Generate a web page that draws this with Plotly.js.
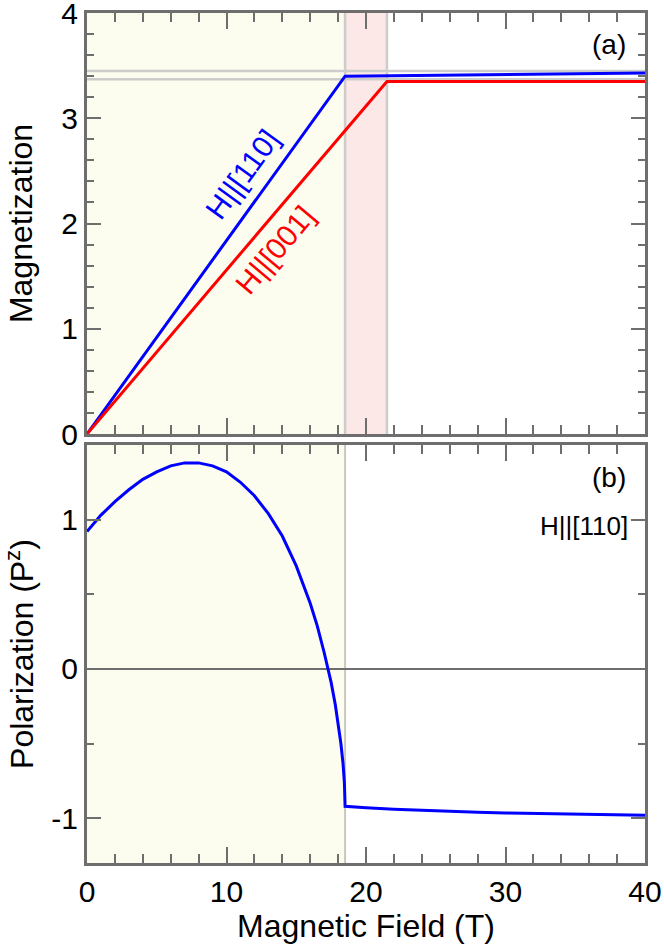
<!DOCTYPE html>
<html>
<head>
<meta charset="utf-8">
<script src="https://cdn.plot.ly/plotly-3.0.1.min.js"></script>
<style>
  html, body { margin: 0; padding: 0; background: #fff; }
  #plot { width: 664px; height: 948px; }
</style>
</head>
<body>
<div id="plot"></div>
<script>
// magnetization curves (panel a)
const field110 = [0, 18.5, 40];
const mag110 = [0, 3.40, 3.43];
const field001 = [0, 21.5, 40];
const mag001 = [0, 3.35, 3.35];

// polarization for H||[110] (panel b)
const fieldPol = [0, 1, 2, 3, 4, 5, 6, 7, 8, 9, 10, 11, 12, 13, 14, 15, 16, 16.5, 17, 17.5, 17.8, 18, 18.2, 18.35, 18.45, 18.5,
  19, 20, 22, 24, 26, 28, 30, 32, 34, 36, 38, 40];
const pol110 = [0.92, 1.03, 1.12, 1.20, 1.27, 1.32, 1.36, 1.38, 1.38, 1.36, 1.32, 1.25, 1.16, 1.04, 0.89, 0.69, 0.44, 0.29, 0.11, -0.09, -0.24, -0.36, -0.50, -0.63, -0.76, -0.92,
  -0.925, -0.93, -0.94, -0.948, -0.955, -0.96, -0.965, -0.969, -0.972, -0.975, -0.977, -0.98];

// field boundaries and reference levels
const hc1 = 18.5;
const hc2 = 21.5;
const refLevels = [3.45, 3.37];

const xTicks = [0, 10, 20, 30, 40];
const magTicks = [0, 1, 2, 3, 4];
const polTicks = [-1, 0, 1];
const polTickText = ['-1', '0', '1'];

const AX = '#6e6e6e';
const FONT = 'Liberation Sans, Arial, sans-serif';

function baseAxis(){
  return {
    ticks: 'inside', ticklen: 16, tickwidth: 2, tickcolor: AX,
    showline: true, linecolor: AX, linewidth: 3, mirror: 'ticks',
    showgrid: false, zeroline: false, ticklabeloverflow: 'allow',
    tickfont: {size: 30, color: '#000', family: FONT}
  };
}

const traces = [
  {x: field110, y: mag110, xaxis: 'x2', yaxis: 'y2', mode: 'lines', line: {color: '#0000ff', width: 3}, hoverinfo: 'none'},
  {x: field001, y: mag001, xaxis: 'x2', yaxis: 'y2', mode: 'lines', line: {color: '#ff0000', width: 3}, hoverinfo: 'none'},
  {x: fieldPol, y: pol110, xaxis: 'x', yaxis: 'y', mode: 'lines', line: {color: '#0000ff', width: 3}, hoverinfo: 'none'}
];

const grayLine = {color: '#cccccc', width: 2.5};
const shapes = [
  {type: 'rect', xref: 'x2', yref: 'y2 domain', x0: 0, x1: hc1, y0: 0, y1: 1, fillcolor: '#fcfdef', line: {width: 0}, layer: 'below'},
  {type: 'rect', xref: 'x2', yref: 'y2 domain', x0: hc1, x1: hc2, y0: 0, y1: 1, fillcolor: '#fde8e8', line: {width: 0}, layer: 'below'},
  {type: 'rect', xref: 'x', yref: 'y domain', x0: 0, x1: hc1, y0: 0, y1: 1, fillcolor: '#fcfdef', line: {width: 0}, layer: 'below'},
  {type: 'line', xref: 'x2', yref: 'y2 domain', x0: hc1, x1: hc1, y0: 0, y1: 1, line: grayLine, layer: 'below'},
  {type: 'line', xref: 'x2', yref: 'y2 domain', x0: hc2, x1: hc2, y0: 0, y1: 1, line: grayLine, layer: 'below'},
  {type: 'line', xref: 'x', yref: 'y domain', x0: hc1, x1: hc1, y0: 0, y1: 1, line: {color: '#c8c8bc', width: 2}, layer: 'below'}
];
refLevels.forEach(v=>{
  shapes.push({type: 'line', xref: 'x2 domain', yref: 'y2', x0: 0, x1: 1, y0: v, y1: v, line: grayLine, layer: 'below'});
});

const annotations = [
  {text: '(a)', xref: 'x2', yref: 'y2', x: 38.8, y: 3.70, xanchor: 'right', yanchor: 'middle', showarrow: false, font: {size: 28, color: '#000'}},
  {text: '(b)', xref: 'x', yref: 'y', x: 38.8, y: 1.28, xanchor: 'right', yanchor: 'middle', showarrow: false, font: {size: 28, color: '#000'}},
  {text: 'H||[110]', xref: 'x', yref: 'y', x: 38.9, y: 0.96, xanchor: 'right', yanchor: 'middle', showarrow: false, font: {size: 26, color: '#000'}},
  {text: 'H||[110]', xref: 'x2', yref: 'y2', x: 11.1, y: 2.47, textangle: -54, showarrow: false, font: {size: 30, color: '#0000ff'}},
  {text: 'H||[001]', xref: 'x2', yref: 'y2', x: 13.5, y: 1.75, textangle: -50, showarrow: false, font: {size: 30, color: '#ff0000'}}
];

const layout = {
  width: 664, height: 948,
  margin: {l: 87, r: 19, t: 13, b: 85},
  paper_bgcolor: '#fff', plot_bgcolor: '#fff',
  font: {family: FONT, color: '#000'},
  showlegend: false,
  xaxis: Object.assign(baseAxis(), {
    domain: [0, 1], anchor: 'y', range: [0, 40], tickmode: 'array', tickvals: xTicks,
    minor: {dtick: 2, ticklen: 9, tickwidth: 2, tickcolor: AX, ticks: 'inside'},
    title: {text: 'Magnetic Field (T)', font: {size: 32}, standoff: 8}
  }),
  xaxis2: Object.assign(baseAxis(), {
    domain: [0, 1], anchor: 'y2', matches: 'x', range: [0, 40], tickmode: 'array', tickvals: xTicks,
    showticklabels: false,
    minor: {dtick: 2, ticklen: 9, tickwidth: 2, tickcolor: AX, ticks: 'inside'}
  }),
  yaxis: Object.assign(baseAxis(), {
    domain: [0, 0.4918], anchor: 'x', range: [-1.3, 1.5], tickmode: 'array', tickvals: polTicks, ticktext: polTickText,
    ticklen: 14,
    minor: {dtick: 0.5, ticklen: 7, tickwidth: 2, tickcolor: AX, ticks: 'inside'},
    zeroline: true, zerolinecolor: AX, zerolinewidth: 2,
    title: {text: 'Polarization (P<sup>z</sup>)', font: {size: 32}, standoff: 18}
  }),
  yaxis2: Object.assign(baseAxis(), {
    domain: [0.5047, 1], anchor: 'x2', range: [0, 4], tickmode: 'array', tickvals: magTicks,
    ticklen: 14,
    minor: {dtick: 0.2, ticklen: 7, tickwidth: 2, tickcolor: AX, ticks: 'inside'},
    title: {text: 'Magnetization', font: {size: 32}, standoff: 20}
  }),
  shapes: shapes,
  annotations: annotations
};

Plotly.newPlot('plot', traces, layout, {staticPlot: true});
</script>
</body>
</html>
